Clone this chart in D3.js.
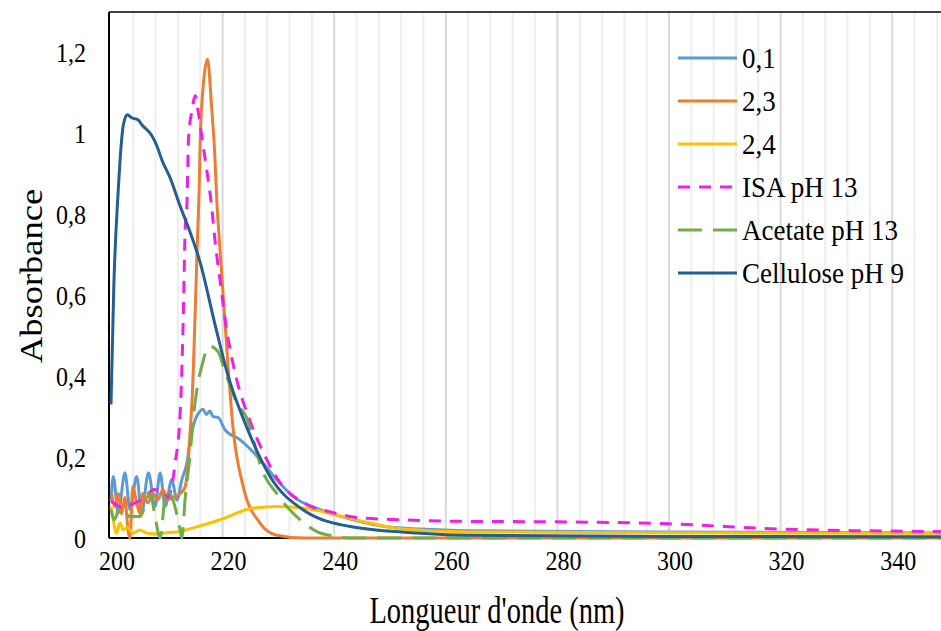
<!DOCTYPE html>
<html>
<head>
<meta charset="utf-8">
<script src="https://cdn.jsdelivr.net/npm/d3@7/dist/d3.min.js"></script>
<style>
  body { margin: 0; background: #fff; }
  svg { display: block; }
  text { font-family: "Liberation Serif", "Times New Roman", serif; fill: #000; }
</style>
</head>
<body>
<svg id="chart" width="941" height="631"></svg>
<script>
// series as [wavelength nm, absorbance]
const s01 = [[200,0.09],[200.4,0.152],[201.3,0.062],[202.5,0.161],[203.4,0.07],[204.6,0.152],[205.5,0.062],[206.7,0.161],[207.9,0.078],[208.8,0.161],[209.7,0.078],[210.9,0.144],[211.8,0.094],[212.7,0.144],[213.6,0.186],[214.2,0.243],[215.1,0.293],[216,0.314],[216.5,0.318],[217.1,0.305],[217.7,0.314],[218.3,0.30],[219.2,0.298],[220.4,0.268],[223.1,0.243],[226.7,0.194],[229.7,0.144],[232.6,0.103],[237.5,0.07],[243.4,0.045],[249.4,0.028],[255.4,0.022],[264.3,0.018],[300,0.015],[350,0.012]];
const s23 = [[200.1,0.11],[200.7,0.078],[201.3,0.11],[201.9,0.06],[202.5,0.10],[203.0,0.027],[203.4,0.0],[203.9,0.127],[204.6,0.087],[205.2,0.06],[205.7,0.11],[206.6,0.087],[207.5,0.11],[208.4,0.095],[209.3,0.12],[210.2,0.095],[211.1,0.10],[212.4,0.11],[213.3,0.127],[213.8,0.185],[214.2,0.268],[214.6,0.36],[215.0,0.52],[215.5,0.74],[215.8,0.865],[216.0,0.989],[216.5,1.113],[217.3,1.183],[218.0,1.071],[218.6,0.947],[219.0,0.823],[219.4,0.74],[220.1,0.6],[221,0.42],[221.9,0.268],[223.7,0.127],[226.7,0.037],[229.7,0.007],[234.4,0.0],[350,0.0]];
const s24 = [[200,0.078],[200.4,0.045],[201,0.012],[201.6,0.037],[202.2,0.02],[203,0.027],[203.9,0.012],[205.2,0.02],[206.4,0.012],[208.2,0.01],[210,0.013],[212.4,0.016],[214.7,0.025],[217.7,0.037],[219.5,0.045],[225.5,0.074],[229.7,0.078],[234.5,0.074],[240.4,0.057],[246.4,0.037],[252.3,0.022],[264.3,0.015],[300,0.013],[350,0.012]];
const isa = [[200,0.09],[200.4,0.087],[202,0.075],[204,0.085],[206,0.1],[207.7,0.12],[209.5,0.11],[210.2,0.10],[211.5,0.185],[212.4,0.31],[212.9,0.517],[213.3,0.765],[213.6,0.823],[213.9,0.989],[214.5,1.056],[215.1,1.093],[215.6,1.056],[216.3,0.989],[217.2,0.906],[218.0,0.823],[218.6,0.74],[219.5,0.641],[220.7,0.517],[222.5,0.393],[224.9,0.29],[227.3,0.211],[230.3,0.137],[234.5,0.087],[239.2,0.065],[244.6,0.05],[252.3,0.045],[264.3,0.041],[280,0.04],[300,0.035],[320,0.022],[340,0.017],[350,0.016]];
const acetate = [[200,0.07],[200.6,0.045],[201.6,0.078],[203.4,0.053],[205.2,0.053],[207,0.11],[208,0.045],[208.8,0.0],[209.9,0.12],[211.1,0.094],[212.4,0.02],[212.7,0.0],[213.3,0.10],[214.2,0.21],[214.7,0.29],[215.6,0.385],[216.3,0.426],[217.2,0.467],[217.7,0.474],[219.2,0.46],[220.1,0.426],[221,0.39],[222.5,0.335],[224.2,0.30],[227.3,0.16],[229.7,0.11],[231.5,0.078],[233.9,0.045],[236.9,0.016],[239.8,0.005],[243.4,0],[350,0]];
const cellulose = [[200,0.33],[200.5,0.62],[201.3,0.86],[202.2,1.02],[202.9,1.046],[203.8,1.038],[204.8,1.034],[205.6,1.02],[207.3,0.995],[208.2,0.97],[209.1,0.935],[210.6,0.89],[212.4,0.82],[214.2,0.755],[216,0.68],[218.6,0.53],[221,0.40],[224.5,0.268],[228.5,0.152],[234.4,0.07],[243.4,0.027],[255.4,0.012],[264,0.007],[300,0.004],[350,0.003]];

const seriesNames = ['0,1', '2,3', '2,4', 'ISA pH 13', 'Acetate pH 13', 'Cellulose pH 9'];
const seriesColors = ['#5B9BD5', '#ED7D31', '#FFC000', '#F01EEA', '#70AD47', '#255E91'];
const seriesDash = [null, null, null, '12,9', '24,11', null];
const seriesData = [s01, s23, s24, isa, acetate, cellulose];

const xTicks = [200, 220, 240, 260, 280, 300, 320, 340];
const yTicks = [0, 0.2, 0.4, 0.6, 0.8, 1, 1.2];

(function(d3) {
  'use strict';

  const svg = d3.select('#chart');
  const W = 941;
  const plotLeft = 111, plotTop = 12, plotBottom = 538;

  const x = d3.scaleLinear().domain([200, 350]).range([plotLeft, plotLeft + 150 * 5.58]);
  const y = d3.scaleLinear().domain([0, 1.3]).range([plotBottom, plotTop]);

  svg.append('defs').append('clipPath').attr('id', 'clip')
    .append('rect').attr('x', plotLeft - 2).attr('y', plotTop)
    .attr('width', W - plotLeft + 2).attr('height', plotBottom - plotTop + 2);

  // vertical gridlines every 4 nm
  const grid = d3.range(204, 350, 4);
  svg.append('g').selectAll('line').data(grid).enter().append('line')
    .attr('x1', d => x(d)).attr('x2', d => x(d))
    .attr('y1', plotTop).attr('y2', plotBottom)
    .attr('stroke', d => d % 20 === 0 ? '#D9D9D9' : '#EEEEEE')
    .attr('stroke-width', 2);

  // frame
  svg.append('line').attr('x1', plotLeft - 2).attr('x2', W).attr('y1', plotTop).attr('y2', plotTop)
    .attr('stroke', '#000').attr('stroke-width', 1.5);
  svg.append('line').attr('x1', plotLeft - 2).attr('x2', plotLeft - 2).attr('y1', plotTop).attr('y2', plotBottom)
    .attr('stroke', '#000').attr('stroke-width', 2);
  svg.append('line').attr('x1', plotLeft - 2).attr('x2', W).attr('y1', plotBottom).attr('y2', plotBottom)
    .attr('stroke', '#000').attr('stroke-width', 2);

  const line = d3.line()
    .x(d => x(d[0]))
    .y(d => y(d[1]))
    .curve(d3.curveMonotoneX);

  const plot = svg.append('g').attr('clip-path', 'url(#clip)');
  seriesData.forEach((data, i) => {
    plot.append('path')
      .attr('d', line(data))
      .attr('fill', 'none')
      .attr('stroke', seriesColors[i])
      .attr('stroke-width', 3)
      .attr('stroke-linejoin', 'round')
      .attr('stroke-dasharray', seriesDash[i]);
  });

  // tick labels
  const fmt = d => String(d).replace('.', ',');
  svg.append('g').selectAll('text').data(yTicks).enter().append('text')
    .attr('transform', d => `translate(86,${y(d)}) scale(1,1.15)`)
    .attr('text-anchor', 'end')
    .attr('dy', '0.35em')
    .style('font-size', '24px')
    .text(fmt);

  svg.append('g').selectAll('text').data(xTicks).enter().append('text')
    .attr('transform', d => `translate(${x(d) + 6},560) scale(1,1.15)`)
    .attr('text-anchor', 'middle')
    .attr('dy', '0.35em')
    .style('font-size', '24px')
    .text(d => d);

  // axis titles
  svg.append('text')
    .attr('transform', 'translate(497,623) scale(1,1.32)')
    .attr('text-anchor', 'middle')
    .style('font-size', '28.5px')
    .text("Longueur d'onde (nm)");

  svg.append('text')
    .attr('transform', 'translate(42,276) rotate(-90) scale(1.14,1)')
    .attr('text-anchor', 'middle')
    .style('font-size', '32px')
    .text('Absorbance');

  // legend
  const legend = svg.append('g');
  seriesNames.forEach((name, i) => {
    const ly = 58 + i * 43;
    legend.append('line')
      .attr('x1', 678).attr('x2', 737).attr('y1', ly).attr('y2', ly)
      .attr('stroke', seriesColors[i]).attr('stroke-width', 3)
      .attr('stroke-dasharray', seriesDash[i]);
    legend.append('text')
      .attr('transform', `translate(742,${ly - 1}) scale(1,1.12)`)
      .attr('dy', '0.35em')
      .style('font-size', '27px')
      .text(name);
  });
}(d3));
</script>
</body>
</html>
